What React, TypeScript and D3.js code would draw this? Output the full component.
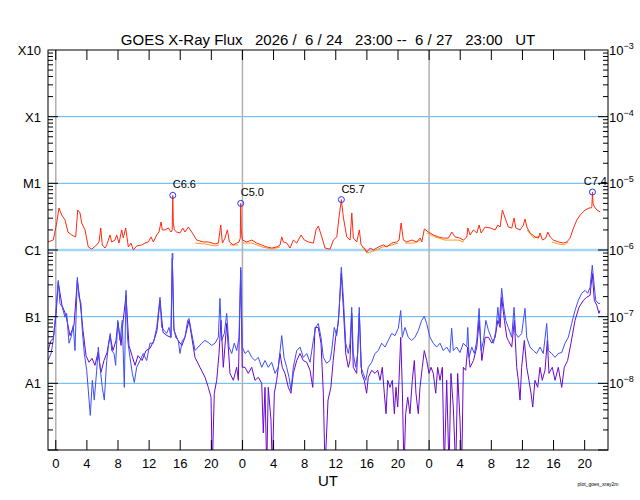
import React, { useEffect, useRef } from 'react';
import * as d3 from 'd3';

// time = hours after 2026/6/24 23:00 UT
type Pt = [number, number | null];

const titleText = 'GOES X-Ray Flux   2026 /  6 / 24   23:00 --  6 / 27   23:00   UT';
const classLabels = ['X10', 'X1', 'M1', 'C1', 'B1', 'A1'];
const powerLabels = [-3, -4, -5, -6, -7, -8];
const hourTicks = [1, 5, 9, 13, 17, 21, 25, 29, 33, 37, 41, 45, 49, 53, 57, 61, 65, 69];
const dayStarts = [1, 25, 49];

// 1-8 A channel, in units of 1e-6 W/m2
const longPrimary: Pt[] = [
  [0.0, 1.32], [0.68, 1.41], [1.12, 2.54], [1.41, 4.27], [1.76, 3.35], [2.19, 2.82], [2.57, 1.86], [3.05, 1.68],
  [3.56, 1.57], [3.82, 3.98], [4.12, 3.59], [4.33, 2.54], [4.76, 2.0], [5.18, 1.11], [5.62, 1.03], [6.26, 1.19],
  [6.56, 1.32], [6.78, 2.14], [6.98, 1.19], [7.33, 1.07], [7.55, 1.19], [7.97, 1.68], [8.19, 1.32], [8.62, 1.41],
  [8.83, 1.68], [9.13, 1.27], [9.48, 2.0], [9.68, 1.51], [9.99, 2.14], [10.33, 1.11], [10.67, 1.27], [10.97, 1.0],
  [11.41, 1.15], [12.05, 1.19], [12.47, 1.27], [12.9, 1.32], [13.25, 1.57], [13.54, 1.32], [13.98, 1.68], [14.27, 1.86],
  [14.53, 2.63], [14.7, 2.0], [15.05, 2.0], [15.47, 2.14], [15.82, 1.86], [15.97, 2.0], [16.04, 6.6], [16.11, 2.6],
  [16.24, 2.0], [16.55, 1.86], [16.98, 1.8], [17.32, 2.14], [17.62, 1.86], [18.04, 2.21], [18.48, 1.86], [19.12, 1.41],
  [19.97, 1.32], [20.61, 1.32], [21.48, 1.23], [21.9, 1.27], [22.21, 2.37], [22.42, 1.27], [22.76, 1.51], [23.06, 2.0],
  [23.32, 1.32], [23.83, 1.19], [24.27, 1.27], [24.56, 1.32], [24.72, 1.5], [24.78, 5.0], [24.85, 2.0], [24.99, 1.41],
  [25.55, 1.32], [26.2, 1.41], [26.84, 1.27], [27.48, 1.19], [28.13, 1.11], [28.77, 1.07], [29.41, 1.11], [29.84, 1.19],
  [30.05, 1.57], [30.26, 1.32], [30.7, 1.27], [31.12, 1.07], [31.55, 1.41], [31.98, 1.27], [32.54, 1.68], [32.96, 1.41],
  [33.48, 1.32], [34.12, 1.27], [34.46, 2.0], [34.76, 2.29], [35.2, 1.57], [35.62, 1.07], [36.27, 1.03], [36.69, 1.41],
  [37.13, 1.57], [37.42, 3.13], [37.72, 5.7], [37.97, 3.13], [38.41, 1.57], [38.84, 1.41], [39.06, 3.59], [39.26, 1.51],
  [39.7, 1.32], [40.03, 2.0], [40.25, 1.19], [40.68, 1.07], [40.99, 0.93], [41.41, 1.07], [41.84, 1.0], [42.48, 1.11],
  [43.12, 1.19], [43.56, 1.11], [44.2, 1.27], [44.84, 1.32], [45.14, 1.41], [45.4, 2.54], [45.69, 1.41], [46.13, 1.32],
  [46.77, 1.41], [47.41, 1.32], [47.84, 1.51], [48.06, 1.32], [48.39, 2.07], [48.91, 1.86], [49.55, 1.68], [50.19, 1.57],
  [50.84, 1.51], [51.48, 1.51], [51.92, 1.86], [52.34, 1.57], [52.99, 1.51], [53.41, 1.41], [53.85, 1.57], [53.98, 2.14],
  [54.27, 1.68], [54.7, 2.0], [55.14, 1.8], [55.43, 2.37], [55.69, 1.8], [56.2, 2.21], [56.85, 2.14], [57.49, 2.0],
  [57.84, 2.37], [58.13, 2.21], [58.42, 3.98], [58.77, 3.02], [59.19, 2.21], [59.63, 2.14], [59.93, 3.02], [60.14, 2.14],
  [60.7, 2.0], [61.12, 2.37], [61.34, 2.92], [61.56, 2.21], [61.98, 1.8], [62.63, 1.57], [63.05, 1.51], [63.27, 1.8],
  [63.57, 1.41], [64.0, 1.51], [64.26, 1.86], [64.56, 1.57], [64.98, 1.41], [65.63, 1.32], [66.27, 1.27], [66.71, 1.32],
  [67.13, 1.51], [67.56, 2.14], [68.0, 2.82], [68.42, 3.35], [69.06, 3.98], [69.58, 4.27], [69.84, 4.27], [69.93, 4.5],
  [70.0, 7.4], [70.08, 5.0], [70.26, 4.42], [70.57, 3.98], [71.0, 3.72],
];

// secondary satellite, only where it shows under the primary
const longSecondary: Pt[] = [
  [18.9, 1.27], [20.19, 1.23], [21.47, 1.15], [21.99, 1.19], [22.1, null],
  [23.4, 1.19], [24.43, 1.19], [24.6, null],
  [25.07, 1.27], [26.23, 1.27], [27.52, 1.11], [28.8, 1.03], [29.83, 1.11], [30.0, null],
  [40.37, 1.11], [41.01, 0.9], [41.91, 0.97], [43.07, 1.11], [44.23, 1.19], [45.0, 1.27], [45.2, null],
  [45.9, 1.27], [47.18, 1.27], [47.83, 1.41], [48.0, null],
  [48.7, 1.8], [49.75, 1.57], [51.04, 1.41], [51.68, 1.41], [52.7, 1.41], [53.48, 1.32], [53.7, null],
  [61.58, 2.0], [62.48, 1.51], [63.26, 1.62], [63.5, null],
  [64.8, 1.32], [65.6, 1.23], [66.37, 1.19], [66.88, 1.32],
];

// 0.5-4 A channel, in units of 1e-8 W/m2 (0.05 = dropout)
const shortPrimary: Pt[] = [
  [0.0, 2.2], [0.39, 2.8], [0.68, 4.4], [0.99, 11.2], [1.32, 35], [1.54, 15.8], [1.84, 13.8], [2.19, 9.8],
  [2.4, 11.2], [2.7, 4.0], [2.96, 4.9], [3.25, 7.4], [3.47, 3.1], [3.77, 38.9], [3.99, 19.5], [4.24, 15.8],
  [4.41, 6.2], [4.67, 2.8], [4.98, 1.57], [5.18, 0.79], [5.44, 0.33], [5.7, 1.11], [5.95, 0.56], [6.26, 1.57],
  [6.47, 3.5], [6.69, 1.74], [6.98, 0.87], [7.24, 0.56], [7.55, 2.2], [7.75, 3.5], [8.01, 5.6], [8.19, 3.1],
  [8.49, 2.8], [8.7, 1.86], [8.96, 8.8], [9.26, 4.4], [9.55, 8.8], [9.81, 0.87], [10.03, 24.8], [10.25, 4.4],
  [10.54, 2.45], [10.84, 1.41], [11.1, 1.03], [11.4, 1.74], [11.83, 2.2], [12.25, 2.8], [12.69, 2.2], [13.11, 4.0],
  [13.54, 4.0], [13.98, 6.9], [14.4, 19.5], [14.62, 6.9], [14.95, 6.2], [15.26, 5.6], [15.56, 6.9], [15.81, 4.9],
  [15.98, 89], [16.16, 6.9], [16.42, 4.9], [16.75, 4.4], [16.97, 2.8], [17.27, 4.4], [17.61, 4.9], [17.96, 8.8],
  [18.13, 9.4], [18.48, 5.6], [18.9, 3.1], [19.32, 3.5], [19.76, 4.0], [20.19, 4.4], [20.61, 4.1], [21.05, 3.7],
  [21.47, 4.0], [21.9, 4.9], [22.11, 18.8], [22.33, 4.4], [22.67, 5.6], [22.98, 11.2], [23.27, 3.5], [23.62, 2.8],
  [23.95, 4.0], [24.26, 3.1], [24.56, 4.9], [24.78, 55], [24.98, 3.5], [25.33, 2.8], [25.75, 3.1], [26.19, 2.45],
  [26.61, 2.2], [27.04, 2.45], [27.48, 1.74], [27.9, 2.2], [28.32, 1.74], [28.76, 2.07], [29.19, 1.41], [29.61, 1.74],
  [30.05, 5.2], [30.34, 2.45], [30.69, 1.74], [30.99, 1.23], [31.24, 0.79], [31.54, 1.74], [31.98, 3.1], [32.4, 3.5],
  [32.82, 2.45], [33.26, 2.8], [33.69, 2.07], [34.11, 4.4], [34.42, 6.9], [34.75, 7.9], [35.1, 4.9], [35.4, 2.45],
  [35.83, 2.0], [36.26, 2.2], [36.48, 3.1], [36.81, 6.9], [37.12, 5.2], [37.41, 11.2], [37.71, 55], [37.97, 19.5],
  [38.28, 4.0], [38.61, 2.8], [38.83, 4.0], [39.05, 13.8], [39.25, 2.8], [39.56, 1.74], [39.82, 2.8], [40.02, 13.8],
  [40.24, 1.74], [40.54, 1.41], [40.85, 1.11], [41.18, 1.74], [41.62, 2.07], [42.04, 2.8], [42.47, 3.1], [42.9, 4.0],
  [43.33, 3.5], [43.75, 4.4], [44.19, 5.6], [44.61, 5.2], [45.04, 6.7], [45.35, 12.4], [45.55, 4.9], [45.9, 6.9],
  [46.32, 4.9], [46.76, 4.4], [47.18, 4.9], [47.61, 6.2], [48.05, 8.8], [48.38, 10.1], [48.69, 7.9], [49.11, 4.9],
  [49.54, 4.0], [49.97, 3.5], [50.4, 4.0], [50.82, 3.1], [51.26, 3.5], [51.68, 2.9], [51.9, 6.7], [52.11, 3.1],
  [52.54, 3.5], [52.97, 2.9], [53.4, 4.0], [53.84, 3.5], [53.97, 6.9], [54.14, 2.45], [54.49, 3.5], [54.82, 2.8],
  [55.13, 4.4], [55.43, 13.3], [55.69, 3.1], [55.99, 4.4], [56.3, 8.8], [56.63, 6.2], [56.98, 4.9], [57.27, 4.0],
  [57.58, 6.2], [57.84, 13.8], [58.02, 7.9], [58.33, 26.6], [58.59, 13.8], [58.85, 8.8], [59.18, 6.9], [59.62, 4.9],
  [59.92, 13.8], [60.13, 5.6], [60.47, 4.9], [60.9, 5.6], [61.33, 13.3], [61.55, 4.9], [61.97, 3.5], [62.4, 3.1],
  [62.83, 2.8], [63.26, 3.5], [63.68, 2.8], [64.12, 7.9], [64.33, 3.1], [64.76, 2.8], [65.19, 2.45], [65.61, 2.8],
  [66.05, 2.9], [66.47, 4.0], [66.9, 4.9], [67.33, 7.9], [67.76, 12.4], [68.19, 17.6], [68.62, 22.4], [69.05, 24.8],
  [69.39, 22.4], [69.69, 27.5], [69.98, 59], [70.2, 31.6], [70.42, 17.6], [70.76, 15.8], [70.97, 15.8],
];

const shortSecondary: Pt[] = [
  [0.0, 3.1], [0.39, 4.4], [0.68, 4.7], [1.03, 10.5], [1.32, 32.7], [1.8, 14.8], [2.31, 10.5], [2.83, 5.2],
  [3.34, 7.4], [3.77, 35], [4.11, 17.6], [4.5, 6.2], [4.89, 2.6], [5.27, 2.07], [5.66, 2.37], [6.04, 1.86],
  [6.43, 2.9], [6.81, 1.46], [7.2, 2.2], [7.59, 2.9], [7.97, 5.2], [8.36, 3.1], [8.74, 4.4], [9.0, 8.2],
  [9.39, 3.7], [9.64, 8.2], [10.03, 20.9], [10.41, 3.7], [10.8, 2.6], [11.19, 1.86], [11.57, 2.6], [12.09, 2.2],
  [12.6, 3.1], [13.11, 3.35], [13.63, 4.4], [14.01, 6.2], [14.4, 17.6], [14.79, 5.8], [15.3, 5.2], [15.81, 4.9],
  [15.98, 75], [16.2, 6.2], [16.71, 4.4], [17.23, 3.7], [17.61, 4.9], [18.13, 8.8], [18.9, 2.45], [19.54, 1.74],
  [20.19, 1.23], [20.61, 0.87], [20.96, 0.62], [21.12, 0.05], [21.38, 0.71], [21.69, 1.11], [21.99, 2.8], [22.24, 8.8],
  [22.54, 1.74], [22.98, 7.9], [23.4, 1.41], [23.83, 1.11], [24.26, 1.74], [24.47, 1.11], [24.78, 49.5], [24.98, 1.74],
  [25.33, 1.74], [25.75, 1.41], [26.19, 1.74], [26.61, 1.11], [27.04, 1.23], [27.48, 1.0], [27.68, 0.18], [27.9, 0.87],
  [28.12, 0.05], [28.32, 0.87], [28.67, 0.28], [28.84, 0.05], [29.1, 0.71], [29.4, 1.11], [29.83, 2.8], [30.12, 1.74],
  [30.47, 1.41], [30.9, 0.87], [31.24, 0.71], [31.54, 1.41], [31.98, 2.2], [32.4, 2.8], [32.82, 2.2], [33.26, 2.07],
  [33.69, 1.57], [34.04, 0.87], [34.33, 6.9], [34.75, 6.9], [35.1, 4.0], [35.4, 0.71], [35.62, 0.05], [36.0, 0.56],
  [36.37, 0.87], [36.67, 2.2], [36.98, 4.9], [37.32, 7.9], [37.71, 44.7], [37.97, 13.8], [38.28, 2.8], [38.61, 1.74],
  [38.83, 2.2], [39.05, 11.2], [39.25, 1.74], [39.69, 1.41], [40.02, 11.2], [40.33, 1.41], [40.66, 1.11], [40.97, 0.71],
  [41.18, 1.23], [41.62, 1.57], [42.04, 1.41], [42.39, 1.57], [42.69, 1.11], [42.98, 1.74], [43.24, 0.71], [43.46, 0.35],
  [43.68, 1.11], [43.97, 0.87], [44.27, 1.11], [44.53, 0.35], [44.74, 0.87], [44.96, 0.44], [45.13, 1.11], [45.35, 4.9],
  [45.55, 0.87], [45.77, 0.05], [45.99, 0.35], [46.25, 0.62], [46.54, 0.35], [46.84, 1.11], [47.1, 2.2], [47.31, 0.71],
  [47.61, 0.35], [47.83, 0.87], [48.12, 1.74], [48.38, 3.1], [48.69, 2.2], [48.99, 1.41], [49.24, 1.74], [49.54, 1.41],
  [49.85, 0.71], [50.1, 1.74], [50.4, 1.11], [50.7, 1.74], [50.95, 0.05], [51.26, 1.11], [51.56, 0.05], [51.81, 1.41],
  [52.11, 0.44], [52.42, 0.05], [52.67, 1.41], [52.97, 0.28], [53.19, 0.05], [53.4, 1.74], [53.7, 1.57], [53.97, 3.5],
  [54.27, 1.74], [54.7, 2.2], [55.13, 3.5], [55.43, 8.8], [55.78, 2.2], [56.2, 4.9], [56.63, 4.9], [57.06, 4.0],
  [57.49, 4.9], [57.84, 8.8], [58.13, 6.9], [58.33, 19.5], [58.68, 8.8], [58.99, 4.9], [59.18, 4.4], [59.62, 3.5],
  [59.96, 8.8], [60.26, 1.74], [60.47, 1.11], [60.69, 0.56], [60.9, 1.74], [61.24, 4.4], [61.55, 1.74], [61.84, 1.11],
  [62.1, 0.71], [62.32, 0.44], [62.61, 1.11], [62.96, 0.87], [63.26, 1.74], [63.55, 1.11], [63.9, 1.57], [64.2, 4.4],
  [64.41, 1.41], [64.84, 1.74], [65.19, 1.11], [65.61, 1.74], [66.05, 0.87], [66.38, 1.74], [66.81, 2.2], [67.24, 4.0],
  [67.76, 8.8], [68.27, 13.8], [68.83, 17.6], [69.26, 19.5], [69.69, 20.9], [69.98, 44.7], [70.24, 17.6], [70.55, 14.8],
  [70.84, 11.2], [70.97, 12.4],
];

const flareTimes = [16.04, 24.78, 37.72, 70.0];
const flareClasses = ['C6.6', 'C5.0', 'C5.7', 'C7.4'];
const flarePeaks = [6.6, 5.0, 5.7, 7.4]; // 1e-6 W/m2
const eventTicks = [16.04];

const FONT = '"Liberation Sans", Arial, sans-serif';

const GoesPlot: React.FC = () => {
  const ref = useRef<SVGSVGElement>(null);

  useEffect(() => {
    if (!ref.current) return;
    const svg = d3.select(ref.current);
    svg.selectAll('*').remove();

    const margin = { top: 50, right: 32, bottom: 50, left: 48 };
    const width = 640 - margin.left - margin.right;
    const height = 500 - margin.top - margin.bottom;

    const x = d3.scaleLinear().domain([0, 72]).range([0, width]);
    const y = d3.scaleLog().domain([1e-9, 1e-3]).range([height, 0]);

    const g = svg.append('g').attr('transform', `translate(${margin.left},${margin.top})`);

    svg.append('defs').append('clipPath').attr('id', 'plotclip')
      .append('rect').attr('width', width).attr('height', height);

    // grid
    [1e-4, 1e-5, 1e-7, 1e-8].forEach(v => {
      g.append('line').attr('x1', 0).attr('x2', width).attr('y1', y(v)).attr('y2', y(v))
        .attr('stroke', '#5cb4ee').attr('stroke-width', 1);
    });
    g.append('line').attr('x1', 0).attr('x2', width).attr('y1', y(1e-6)).attr('y2', y(1e-6))
      .attr('stroke', '#a6d6f7').attr('stroke-width', 2.5);

    dayStarts.forEach(h => {
      g.append('line').attr('x1', x(h)).attr('x2', x(h)).attr('y1', 0).attr('y2', height)
        .attr('stroke', '#b0b0b0').attr('stroke-width', 1.5);
    });

    const plot = g.append('g').attr('clip-path', 'url(#plotclip)');

    const line = (unit: number) => d3.line<Pt>()
      .defined(d => d[1] !== null)
      .x(d => x(d[0]))
      .y(d => y((d[1] as number) * unit));

    const series: [Pt[], number, string][] = [
      [longSecondary, 1e-6, '#ff9a22'],
      [longPrimary, 1e-6, '#ff2a10'],
      [shortSecondary, 1e-8, '#6a08d0'],
      [shortPrimary, 1e-8, '#3c4ef6'],
    ];
    series.forEach(([data, unit, color]) => {
      plot.append('path').datum(data)
        .attr('fill', 'none').attr('stroke', color).attr('stroke-width', 1)
        .attr('stroke-linejoin', 'round')
        .attr('d', line(unit) as any);
    });

    // flares; a label that would run past the frame is pulled back inside
    flareTimes.forEach((t, i) => {
      const cx = x(t);
      const cy = y(flarePeaks[i] * 1e-6);
      g.append('circle').attr('cx', cx).attr('cy', cy).attr('r', 3)
        .attr('fill', 'none').attr('stroke', '#2233ff').attr('stroke-width', 1);
      const nearEdge = cx + 24 > width;
      g.append('text').attr('x', nearEdge ? width - 1 : cx).attr('y', cy - 7)
        .attr('text-anchor', nearEdge ? 'end' : 'start')
        .style('font-family', FONT).style('font-size', '11px').attr('fill', '#000')
        .text(flareClasses[i]);
    });
    eventTicks.forEach(t => {
      g.append('line').attr('x1', x(t)).attr('x2', x(t)).attr('y1', y(1e-6) + 3).attr('y2', y(1e-6) + 10)
        .attr('stroke', '#4060ff').attr('stroke-width', 1.2);
    });

    // frame
    g.append('rect').attr('width', width).attr('height', height)
      .attr('fill', 'none').attr('stroke', '#000').attr('stroke-width', 1);

    // hour ticks top/bottom
    hourTicks.forEach(h => {
      g.append('line').attr('x1', x(h)).attr('x2', x(h)).attr('y1', 0).attr('y2', 10).attr('stroke', '#000');
      g.append('line').attr('x1', x(h)).attr('x2', x(h)).attr('y1', height).attr('y2', height - 10).attr('stroke', '#000');
      g.append('text').attr('x', x(h)).attr('y', height + 18)
        .attr('text-anchor', 'middle').style('font-family', FONT).style('font-size', '13px')
        .text(String((23 + h) % 24));
    });

    // log ticks on both sides
    for (let e = -9; e < -3; e++) {
      for (let k = 1; k <= 9; k++) {
        const v = k * Math.pow(10, e);
        const len = k === 1 ? 10 : 5;
        const yy = y(v);
        g.append('line').attr('x1', 0).attr('x2', len).attr('y1', yy).attr('y2', yy).attr('stroke', '#000');
        g.append('line').attr('x1', width - len).attr('x2', width).attr('y1', yy).attr('y2', yy).attr('stroke', '#000');
      }
    }

    classLabels.forEach((lab, i) => {
      g.append('text').attr('x', -7).attr('y', y(Math.pow(10, -3 - i)) + 5)
        .attr('text-anchor', 'end').style('font-family', FONT).style('font-size', '13px')
        .text(lab);
    });

    powerLabels.forEach(p => {
      const t = g.append('text').attr('x', width + 1).attr('y', y(Math.pow(10, p)) + 5)
        .style('font-family', FONT).style('font-size', '13px');
      t.append('tspan').text('10');
      t.append('tspan').attr('dy', -6).style('font-size', '9px').text(`\u2212${-p}`);
    });

    svg.append('text').attr('x', margin.left + width / 2).attr('y', 45)
      .attr('text-anchor', 'middle').style('font-family', FONT).style('font-size', '15px')
      .style('white-space', 'pre').text(titleText);

    svg.append('text').attr('x', margin.left + width / 2).attr('y', 486)
      .attr('text-anchor', 'middle').style('font-family', FONT).style('font-size', '15px')
      .text('UT');

    svg.append('text').attr('x', 598).attr('y', 486)
      .attr('text-anchor', 'middle').style('font-family', FONT).style('font-size', '5px')
      .text('plot_goes_xray2m');
  }, []);

  return (
    <div style={{ position: 'absolute', left: 0, top: 0 }}>
      <svg ref={ref} width={640} height={500} style={{ display: 'block', background: '#fff' }}></svg>
    </div>
  );
};

export default GoesPlot;
